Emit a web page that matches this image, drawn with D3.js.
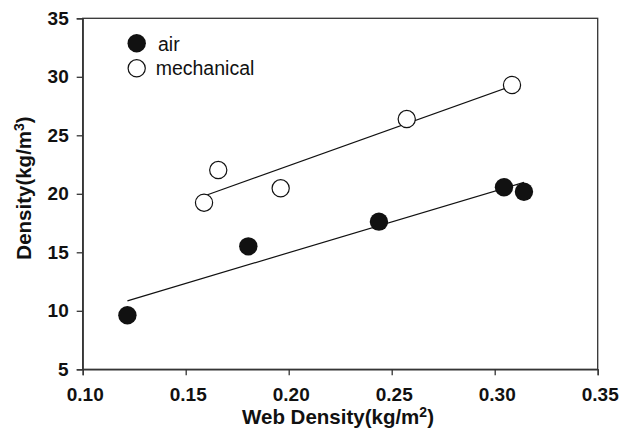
<!DOCTYPE html>
<html lang="en">
<head>
<meta charset="utf-8">
<title>Web density vs density</title>
<style>
  body { margin: 0; background: #fff; }
  svg { display: block; font-family: "Liberation Sans", Arial, Helvetica, sans-serif; }
  .tick text { font-size: 19px; font-weight: bold; fill: #111; }
  .axis-title { font-size: 20.5px; font-weight: bold; fill: #111; }
  .legend text { font-size: 19.5px; fill: #111; }
</style>
</head>
<body>
<div id="chart"></div>
<script src="https://cdn.jsdelivr.net/npm/d3@7"></script>
<script>
var width = 625,
    height = 430;

// values
var airX = [0.1217, 0.1804, 0.2438, 0.3045, 0.3142];
var airY = [9.62, 15.51, 17.62, 20.56, 20.18];
var mechX = [0.1589, 0.1658, 0.1961, 0.2573, 0.3084];
var mechY = [19.24, 22.03, 20.47, 26.39, 29.30];
var xTicks = [0.10, 0.15, 0.20, 0.25, 0.30, 0.35];
var yTicks = [5, 10, 15, 20, 25, 30, 35];
var seriesNames = ["air", "mechanical"];

var plotLeft = 82.7, plotRight = 597.7, plotTop = 18.3, plotBottom = 369.3;

var svg = d3.select("#chart")
    .append("svg")
    .attr("width", width)
    .attr("height", height);

var x = d3.scaleLinear().domain([0.10, 0.35]).range([plotLeft, plotRight]);
var y = d3.scaleLinear().domain([5, 35]).range([plotBottom, plotTop]);

// frame
svg.append("rect")
    .attr("x", plotLeft).attr("y", plotTop)
    .attr("width", plotRight - plotLeft).attr("height", plotBottom - plotTop)
    .attr("fill", "none")
    .attr("stroke", "#333")
    .attr("stroke-width", 1.3);

var xAxis = svg.append("g")
    .attr("transform", "translate(0," + plotBottom + ")")
    .call(d3.axisBottom(x).tickValues(xTicks).tickFormat(d3.format(".2f")).tickSize(6).tickPadding(8));

var yAxis = svg.append("g")
    .attr("transform", "translate(" + plotLeft + ",0)")
    .call(d3.axisLeft(y).tickValues(yTicks).tickSize(6).tickPadding(8));

[xAxis, yAxis].forEach(function(g) {
  g.attr("font-family", null).attr("font-size", null);
  g.select(".domain").attr("stroke", "#333").attr("stroke-width", 1.3);
  g.selectAll(".tick line").attr("stroke", "#333").attr("stroke-width", 1.3);
});
xAxis.selectAll(".tick text").attr("dy", "0.95em").attr("dx", 2);

// least squares fit lines over the data range
function fit(xs, ys) {
  var mx = d3.mean(xs), my = d3.mean(ys);
  var sxy = d3.sum(xs, function(v, i) { return (v - mx) * (ys[i] - my); });
  var sxx = d3.sum(xs, function(v) { return (v - mx) * (v - mx); });
  var b = sxy / sxx, a = my - b * mx;
  var x0 = d3.min(xs), x1 = d3.max(xs);
  return [[x0, a + b * x0], [x1, a + b * x1]];
}

var line = d3.line()
    .x(function(d) { return x(d[0]); })
    .y(function(d) { return y(d[1]); });

[fit(airX, airY), fit(mechX, mechY)].forEach(function(seg) {
  svg.append("path")
      .attr("d", line(seg))
      .attr("fill", "none")
      .attr("stroke", "#111")
      .attr("stroke-width", 1.2);
});

// points
svg.selectAll(".air")
    .data(airX.map(function(v, i) { return [v, airY[i]]; }))
    .enter().append("circle")
    .attr("class", "air")
    .attr("cx", function(d) { return x(d[0]); })
    .attr("cy", function(d) { return y(d[1]); })
    .attr("r", 9.2)
    .attr("fill", "#111");

svg.selectAll(".mech")
    .data(mechX.map(function(v, i) { return [v, mechY[i]]; }))
    .enter().append("circle")
    .attr("class", "mech")
    .attr("cx", function(d) { return x(d[0]); })
    .attr("cy", function(d) { return y(d[1]); })
    .attr("r", 8.6)
    .attr("fill", "#fff")
    .attr("stroke", "#111")
    .attr("stroke-width", 1.2);

// legend
var legend = svg.append("g").attr("class", "legend");
legend.append("circle").attr("cx", 136.7).attr("cy", 43.3).attr("r", 9.2).attr("fill", "#111");
legend.append("circle").attr("cx", 136.7).attr("cy", 68.3).attr("r", 8.6)
    .attr("fill", "#fff").attr("stroke", "#111").attr("stroke-width", 1.2);
legend.append("text").attr("x", 158).attr("y", 50.5).text(seriesNames[0]);
legend.append("text").attr("x", 155.7).attr("y", 75).text(seriesNames[1]);

// axis titles
var xt = svg.append("text")
    .attr("class", "axis-title")
    .attr("x", 338).attr("y", 424)
    .attr("text-anchor", "middle")
    .text("Web Density(kg/m");
xt.append("tspan").attr("dy", -7.5).attr("font-size", 14).text("2");
xt.append("tspan").attr("dy", 7.5).text(")");

var yt = svg.append("text")
    .attr("class", "axis-title")
    .attr("transform", "translate(31,188) rotate(-90)")
    .attr("text-anchor", "middle")
    .text("Density(kg/m");
yt.append("tspan").attr("dy", -7.5).attr("font-size", 14).text("3");
yt.append("tspan").attr("dy", 7.5).text(")");
</script>
</body>
</html>
